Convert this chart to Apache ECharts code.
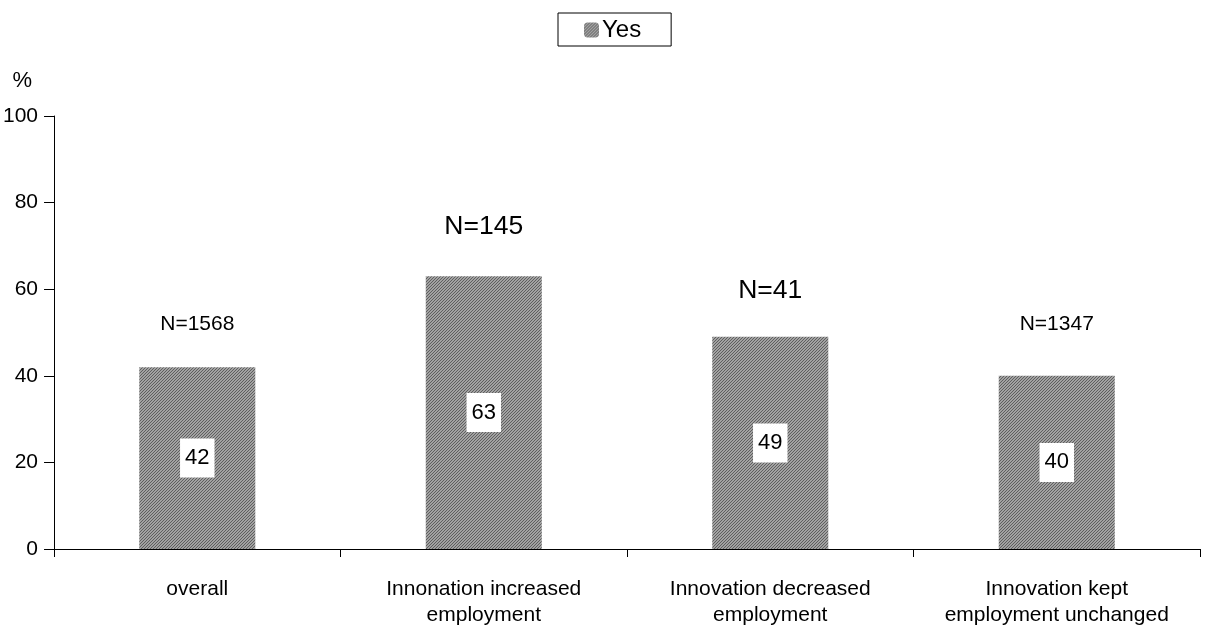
<!DOCTYPE html>
<html><head><meta charset="utf-8">
<script src="https://cdn.jsdelivr.net/npm/echarts@6/dist/echarts.min.js"></script>
<style>html,body{margin:0;padding:0;background:#fff}#c{width:1214px;height:628px}</style>
</head><body><div id="c"></div>
<script>
const categories = ['overall', 'Innonation increased\nemployment', 'Innovation decreased\nemployment', 'Innovation kept\nemployment unchanged'];
const yesValues = [42, 63, 49, 40];
const nLabels = ['N=1568', 'N=145', 'N=41', 'N=1347'];
const nLabelPos = [52, 74.5, 59.7, 52];
const yTicks = [0, 20, 40, 60, 80, 100];

// styling (font size per N label, as in the original)
const nLabelStyle = ['small', 'big', 'big', 'small'];

function makePattern() {
  const c = document.createElement('canvas');
  c.width = 3; c.height = 3;
  const g = c.getContext('2d');
  g.fillStyle = '#a2a2a2';
  g.fillRect(0, 0, 3, 3);
  g.fillStyle = '#5e5e5e';
  for (let i = 0; i < 3; i++) {
    g.fillRect(i, 2 - i, 1, 1);
  }
  return c;
}
const pat = { image: makePattern(), repeat: 'repeat' };

const chart = echarts.init(document.getElementById('c'));
const font = 'Liberation Sans, Arial, sans-serif';
chart.setOption({
  animation: false,
  textStyle: { fontFamily: font },
  legend: {
    top: 13, left: 558,
    data: ['Yes'],
    itemWidth: 15, itemHeight: 15, itemGap: 5,
    borderColor: '#000', borderWidth: 1, borderRadius: 0,
    padding: [5, 30, 4, 26],
    textStyle: { fontFamily: font, fontSize: 24, color: '#000', padding: [0, 0, 0, -2] }
  },
  grid: { left: 54, right: 14, top: 116, bottom: 78, containLabel: false },
  xAxis: {
    type: 'category', data: categories,
    axisLine: { lineStyle: { color: '#000', width: 1 } },
    axisTick: { show: true, length: 8, lineStyle: { color: '#000' } },
    axisLabel: { color: '#000', fontSize: 21, fontFamily: font, lineHeight: 26, margin: 27, interval: 0 }
  },
  yAxis: {
    type: 'value', min: 0, max: 100, interval: 20,
    name: '%', nameLocation: 'end', nameGap: 24,
    nameTextStyle: { color: '#000', fontSize: 22, fontFamily: font, align: 'right', padding: [0, 22, 0, 0] },
    axisLine: { show: true, lineStyle: { color: '#000' } },
    axisTick: { show: true, length: 10, lineStyle: { color: '#000' } },
    splitLine: { show: false },
    axisLabel: { color: '#000', fontSize: 21, fontFamily: font, margin: 16,
      formatter: v => yTicks.includes(v) ? String(v) : '' }
  },
  series: [
    {
      name: 'Yes', type: 'bar', data: yesValues, barWidth: '40.5%',
      itemStyle: { color: pat },
      label: { show: true, position: 'inside', color: '#000', fontSize: 22, fontFamily: font,
        backgroundColor: '#fff', padding: [9, 5, 8, 5] }
    },
    {
      name: 'N', type: 'scatter', data: nLabelPos, symbolSize: 0, silent: true,
      itemStyle: { opacity: 1 },
      label: { show: true, position: 'inside', color: '#000', fontSize: 21, fontFamily: font,
        formatter: p => '{' + nLabelStyle[p.dataIndex] + '|' + nLabels[p.dataIndex] + '}',
        rich: {
          small: { fontSize: 21, color: '#000', fontFamily: font },
          big: { fontSize: 26.5, color: '#000', fontFamily: font }
        }
      }
    }
  ]
});
</script></body></html>
